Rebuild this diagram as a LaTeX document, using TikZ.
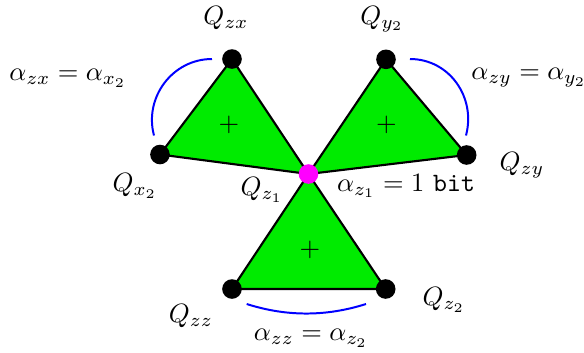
\documentclass[tikz,border=0pt]{standalone}
\definecolor{puremagenta}{RGB}{255,0,255}
\definecolor{trigreen}{RGB}{0,235,0}
\begin{document}
\begin{tikzpicture}[x=0.3774pt,y=-0.3774pt,
  dot/.style={circle,fill=black,inner sep=0pt,minimum size=7.4pt},
  mdot/.style={circle,fill=puremagenta,inner sep=0pt,minimum size=7.4pt},
  tri/.style={fill=trigreen,draw=black,line width=0.8pt,line join=round},
  arcline/.style={blue,line width=0.75pt},
  lab/.style={inner sep=0pt}]
\useasboundingbox (0,0) rectangle (584,352);
% vertex positions
\coordinate (zxp) at (232,59);
\coordinate (x2p) at (160,154.5);
\coordinate (z1p) at (308.5,174);
\coordinate (y2p) at (386,59.3);
\coordinate (zyp) at (466.7,155);
\coordinate (zzp) at (232,289);
\coordinate (z2p) at (385.7,289);
% triangles
\draw[tri] (zxp) -- (x2p) -- (z1p) -- cycle;
\draw[tri] (y2p) -- (zyp) -- (z1p) -- cycle;
\draw[tri] (z1p) -- (zzp) -- (z2p) -- cycle;
% plus signs
\node[lab] (p1) at (229,125) {$+$};
\node[lab] (p2) at (386.5,125) {$+$};
\node[lab] (p3) at (310,250) {$+$};
% dots
\node[dot] (zx) at (zxp) {};
\node[dot] (x2) at (x2p) {};
\node[dot] (y2) at (y2p) {};
\node[dot] (zy) at (zyp) {};
\node[dot] (zz) at (zzp) {};
\node[dot] (z2) at (z2p) {};
\node[mdot] (z1) at (z1p) {};
% arcs
\coordinate (a1s) at (212,59);
\coordinate (a1e) at (154,135.5);
\draw[arcline] (a1s) .. controls (172.6,59) and (143.8,97.4) .. (a1e);
\coordinate (a2s) at (410,59);
\coordinate (a2e) at (466,135.5);
\draw[arcline] (a2s) .. controls (449.4,59) and (476.2,97.4) .. (a2e);
\coordinate (a3s) at (246.7,304);
\coordinate (a3e) at (366,304);
\draw[arcline] (a3s) .. controls (286.5,316.7) and (326,316.7) .. (a3e);
% labels
\node[lab] (lzx) at (226,18) {$Q_{zx}$};
\node[lab] (ly2) at (382,19) {$Q_{y_2}$};
\node[lab] (lazx) at (68,78) {$\alpha_{zx}=\alpha_{x_2}$};
\node[lab] (lazy) at (529,78) {$\alpha_{zy}=\alpha_{y_2}$};
\node[lab] (lx2) at (135,186) {$Q_{x_2}$};
\node[lab] (lz1) at (262,190) {$Q_{z_1}$};
\node[lab] (laz1) at (406,186) {$\alpha_{z_1}=1~\texttt{bit}$};
\node[lab] (lzy) at (522,165) {$Q_{zy}$};
\node[lab] (lzz) at (191,316) {$Q_{zz}$};
\node[lab] (lz2) at (444,300) {$Q_{z_2}$};
\node[lab] (lazz) at (311,338) {$\alpha_{zz}=\alpha_{z_2}$};
\end{tikzpicture}
\end{document}
